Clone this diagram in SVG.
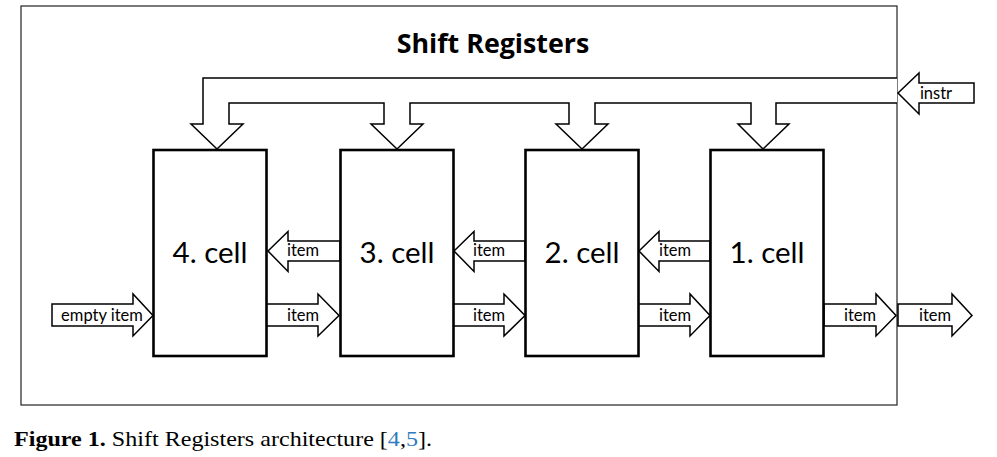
<svg xmlns="http://www.w3.org/2000/svg" width="997" height="457" viewBox="0 0 997 457">
<style>
.frame{fill:none;stroke:#222;stroke-width:1.2}
.cell{fill:#fff;stroke:#000;stroke-width:2.6}
.arr{fill:#fff;stroke:#000;stroke-width:1.5;stroke-linejoin:miter}
.lbl{font-family:Lato,"Open Sans",sans-serif;font-size:29.5px;fill:#000;text-anchor:middle}
.sm{font-family:Lato,"Open Sans",sans-serif;font-size:16.5px;fill:#000;text-anchor:middle}
.title{font-family:"Open Sans",Lato,sans-serif;font-size:26.8px;font-weight:bold;fill:#000;text-anchor:middle}
.cap{font-family:"Liberation Serif","DejaVu Serif",serif;font-size:22px;fill:#000}
</style>
<rect class="frame" x="21" y="6" width="876" height="399"/>
<text class="title" x="493" y="52.5">Shift Registers</text>
<g id="connectors">
<path class="arr" d="M897,78 L203,78 L203,124 L191,124 L217,149 L243,124 L229,124 L229,103 L384,103 L384,124 L371,124 L397,149 L423,124 L410,124 L410,103 L569,103 L569,124 L556,124 L582,149 L608,124 L595,124 L595,103 L751,103 L751,124 L738,124 L763,149 L789,124 L776,124 L776,103 L897,103"/>
<path class="arr" d="M898,93 L919,73 L919,83 L974,83 L974,103 L919,103 L919,114 Z"/>
<text class="sm" x="936" y="99">instr</text>
<path class="arr" d="M52,304 L133,304 L133,294 L153,315.5 L133,336 L133,326 L52,326 Z"/>
<text class="sm" x="102" y="320.5">empty item</text>
<path class="arr" d="M268,251 L288,231.5 L288,241 L340,241 L340,261 L288,261 L288,271.5 Z"/>
<text class="sm" x="303" y="256">item</text>
<path class="arr" d="M266,304 L318,304 L318,294 L339,315.5 L318,336 L318,326 L266,326 Z"/>
<text class="sm" x="303" y="320.5">item</text>
<path class="arr" d="M454,251 L474,231.5 L474,241 L525,241 L525,261 L474,261 L474,271.5 Z"/>
<text class="sm" x="489" y="256">item</text>
<path class="arr" d="M453,304 L504,304 L504,294 L525,315.5 L504,336 L504,326 L453,326 Z"/>
<text class="sm" x="489" y="320.5">item</text>
<path class="arr" d="M639,251 L659,231.5 L659,241 L710,241 L710,261 L659,261 L659,271.5 Z"/>
<text class="sm" x="675" y="256">item</text>
<path class="arr" d="M638,304 L690,304 L690,294 L710,315.5 L690,336 L690,326 L638,326 Z"/>
<text class="sm" x="675" y="320.5">item</text>
<path class="arr" d="M824,304 L876,304 L876,294 L896,315.5 L876,336 L876,326 L824,326 Z"/>
<text class="sm" x="860" y="320.5">item</text>
<path class="arr" d="M898,304 L952,304 L952,294 L972,315.5 L952,336 L952,326 L898,326 Z"/>
<text class="sm" x="935" y="320.5">item</text>
</g>
<g id="cell4"><rect class="cell" x="153.5" y="150" width="113" height="206"/><text class="lbl" x="210" y="263">4. cell</text></g>
<g id="cell3"><rect class="cell" x="340.5" y="150" width="113" height="206"/><text class="lbl" x="397" y="263">3. cell</text></g>
<g id="cell2"><rect class="cell" x="525.5" y="150" width="113" height="206"/><text class="lbl" x="582" y="263">2. cell</text></g>
<g id="cell1"><rect class="cell" x="710.5" y="150" width="113" height="206"/><text class="lbl" x="767" y="263">1. cell</text></g>
<text class="cap" x="14" y="446" textLength="418" lengthAdjust="spacingAndGlyphs"><tspan font-weight="bold">Figure 1.</tspan> Shift Registers architecture [<tspan fill="#2e7bbf">4</tspan>,<tspan fill="#2e7bbf">5</tspan>].</text>
</svg>
